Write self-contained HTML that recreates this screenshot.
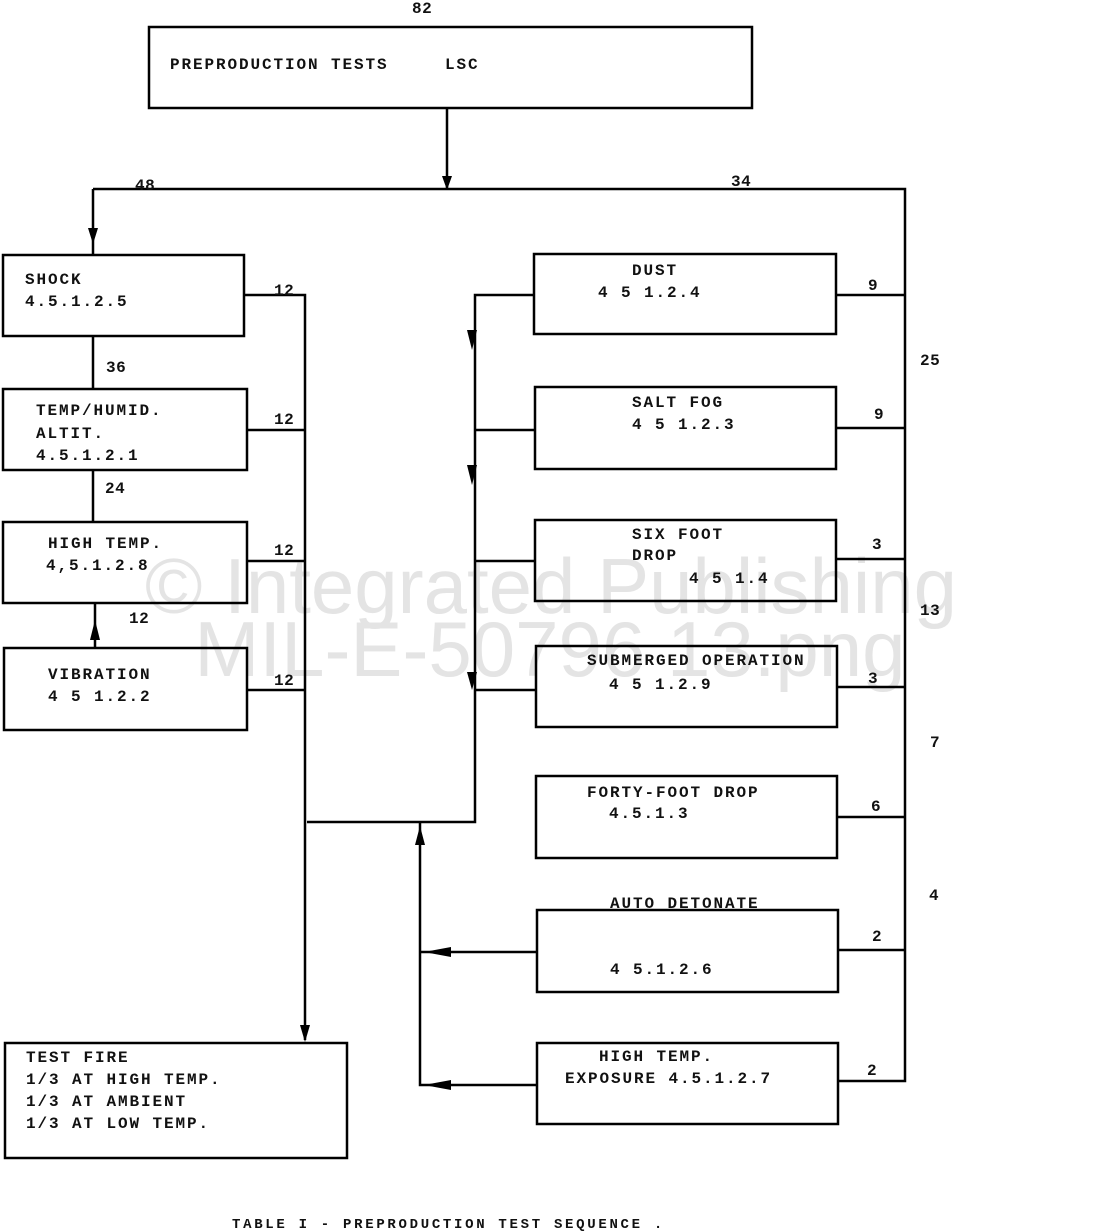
<!DOCTYPE html>
<html><head><meta charset="utf-8"><style>
html,body{margin:0;padding:0;background:#fff;}
svg{display:block;}
text{font-family:"Liberation Mono",monospace;font-size:16px;fill:#111;letter-spacing:1.9px;font-weight:bold;}
.n{letter-spacing:0.5px;}
.wm{font-family:"Liberation Sans",sans-serif;font-size:78px;fill:#e4e4e4;letter-spacing:0;font-weight:normal;}
</style></head><body>
<svg width="1094" height="1232" viewBox="0 0 1094 1232" xmlns="http://www.w3.org/2000/svg">
<text class="wm" x="551" y="613" text-anchor="middle">© Integrated Publishing</text>
<text class="wm" x="550" y="676" text-anchor="middle">MIL-E-50796 13.png</text>
<g fill="none" stroke="#000" stroke-width="2.5">
<rect x="149" y="27" width="603" height="81"/>
<rect x="3" y="255" width="241" height="81"/>
<rect x="3" y="389" width="244" height="81"/>
<rect x="3" y="522" width="244" height="81"/>
<rect x="4" y="648" width="243" height="82"/>
<rect x="5" y="1043" width="342" height="115"/>
<rect x="534" y="254" width="302" height="80"/>
<rect x="535" y="387" width="301" height="82"/>
<rect x="535" y="520" width="301" height="81"/>
<rect x="536" y="646" width="301" height="81"/>
<rect x="536" y="776" width="301" height="82"/>
<rect x="537" y="910" width="301" height="82"/>
<rect x="537" y="1043" width="301" height="81"/>
<path d="M447 108V189 M93 189H905V1081H838 M93 189V255"/>
<path d="M93 336V389 M93 470V522 M95 603V648"/>
<path d="M244 295H305V1040 M247 430H305 M247 561H305 M247 690H305"/>
<path d="M307 822H475V295H534 M475 430H535 M475 561H535 M475 690H536"/>
<path d="M836 295H905 M836 428H905 M836 559H905 M837 687H905 M837 817H905 M838 950H905"/>
<path d="M420 822V1085H537 M420 952H537"/>
</g>
<g fill="#000">
<path d="M442 176L452 176L447 190Z"/>
<path d="M88 228L98 228L93 244Z"/>
<path d="M300 1025L310 1025L305 1042Z"/>
<path d="M90 640L100 640L95 620Z"/>
<path d="M467 330L477 330L472 350Z"/>
<path d="M467 465L477 465L472 485Z"/>
<path d="M467 672L477 672L472 690Z"/>
<path d="M415 845L425 845L420 826Z"/>
<path d="M425 947L425 957L452 952Z" transform="rotate(180 438 952)"/>
<path d="M425 1080L425 1090L452 1085Z" transform="rotate(180 438 1085)"/>
</g>
<text x="170" y="69">PREPRODUCTION TESTS</text><text x="445" y="69">LSC</text>
<text x="25" y="284">SHOCK</text><text x="25" y="306">4.5.1.2.5</text>
<text x="36" y="415">TEMP/HUMID.</text><text x="36" y="438">ALTIT.</text><text x="36" y="460">4.5.1.2.1</text>
<text x="48" y="548">HIGH TEMP.</text><text x="46" y="570">4,5.1.2.8</text>
<text x="48" y="679">VIBRATION</text><text x="48" y="701">4 5 1.2.2</text>
<text x="26" y="1062">TEST FIRE</text><text x="26" y="1084">1/3 AT HIGH TEMP.</text><text x="26" y="1106">1/3 AT AMBIENT</text><text x="26" y="1128">1/3 AT LOW TEMP.</text>
<text x="632" y="275">DUST</text><text x="598" y="297">4 5 1.2.4</text>
<text x="632" y="407">SALT FOG</text><text x="632" y="429">4 5 1.2.3</text>
<text x="632" y="539">SIX FOOT</text><text x="632" y="560">DROP</text><text x="689" y="583">4 5 1.4</text>
<text x="587" y="665">SUBMERGED OPERATION</text><text x="609" y="689">4 5 1.2.9</text>
<text x="587" y="797">FORTY-FOOT DROP</text><text x="609" y="818">4.5.1.3</text>
<text x="610" y="908">AUTO DETONATE</text><text x="610" y="974">4 5.1.2.6</text>
<text x="599" y="1061">HIGH TEMP.</text><text x="565" y="1083">EXPOSURE 4.5.1.2.7</text>
<text class="n" x="412" y="13">82</text>
<text class="n" x="135" y="190">48</text>
<text class="n" x="731" y="186">34</text>
<text class="n" x="106" y="372">36</text>
<text class="n" x="105" y="493">24</text>
<text class="n" x="129" y="623">12</text>
<text class="n" x="274" y="295">12</text>
<text class="n" x="274" y="424">12</text>
<text class="n" x="274" y="555">12</text>
<text class="n" x="274" y="685">12</text>
<text class="n" x="868" y="290">9</text>
<text class="n" x="874" y="419">9</text>
<text class="n" x="872" y="549">3</text>
<text class="n" x="868" y="683">3</text>
<text class="n" x="871" y="811">6</text>
<text class="n" x="872" y="941">2</text>
<text class="n" x="867" y="1075">2</text>
<text class="n" x="920" y="365">25</text>
<text class="n" x="920" y="615">13</text>
<text class="n" x="930" y="747">7</text>
<text class="n" x="929" y="900">4</text>
<text x="232" y="1228" style="font-size:14px;letter-spacing:2.7px">TABLE I - PREPRODUCTION TEST SEQUENCE .</text>
</svg>
</body></html>
